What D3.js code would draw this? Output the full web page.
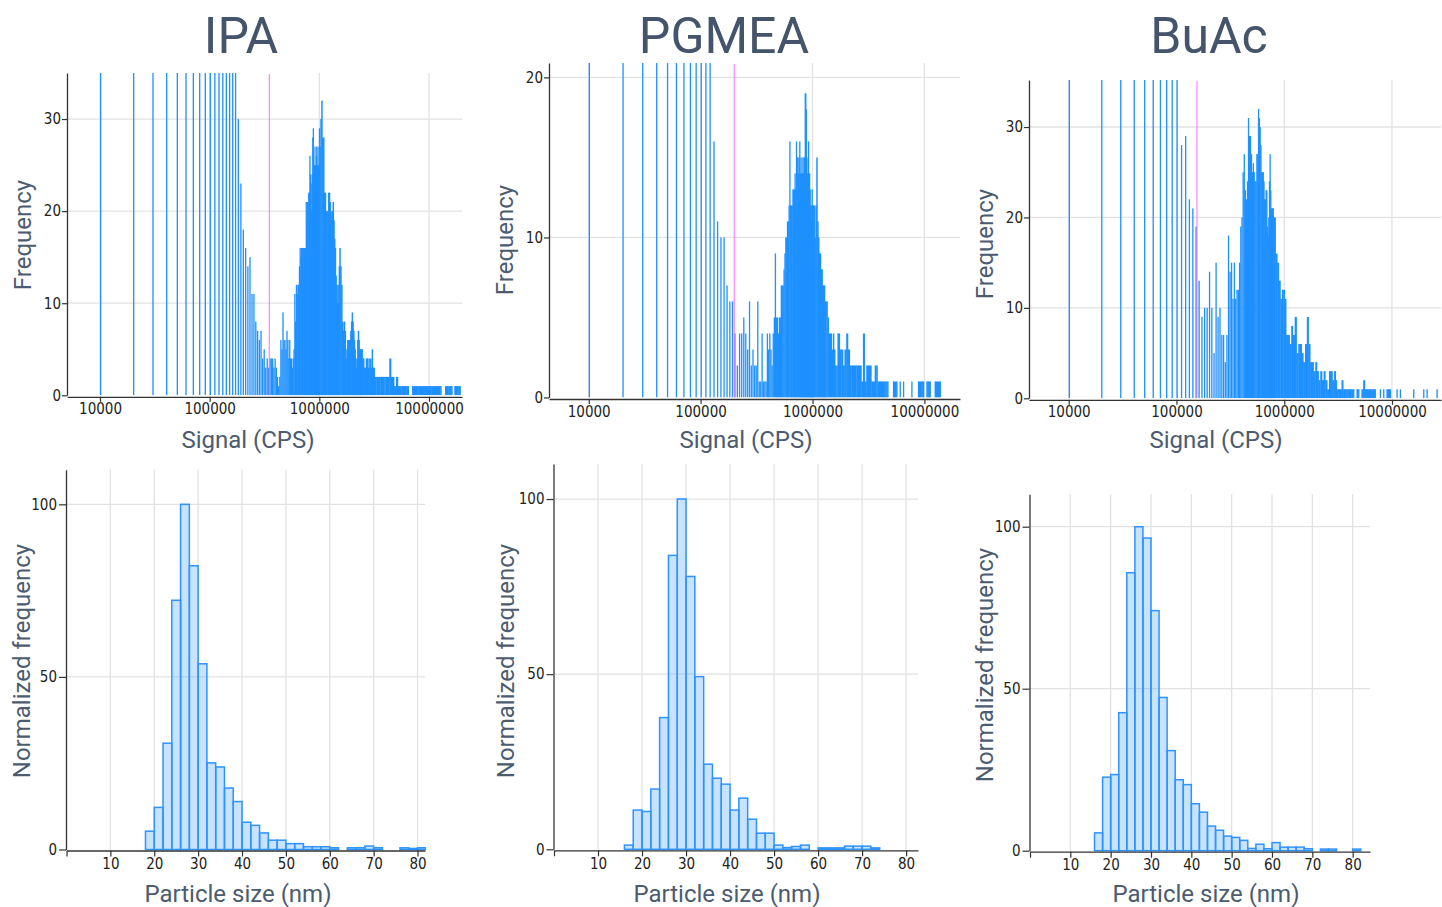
<!DOCTYPE html>
<html>
<head>
<meta charset="utf-8">
<script src="https://cdn.jsdelivr.net/npm/d3@7"></script>
<style>
  body { margin: 0; background: #fff; }
  svg { display: block; font-family: Roboto, "Noto Sans", sans-serif; }
  .tick text { font-family: "Liberation Sans Narrow", "DejaVu Sans Condensed", sans-serif; font-size: 15px; fill: #222; }
</style>
</head>
<body>
<script>
// ---- data -------------------------------------------------------------
// top row: signal histograms. bin start in kCPS (bins are 10 kCPS wide), count per bin.
// 99 = bar runs off the top of the plot
const ipaSignal = [10,20,30,40,50,60,70,80,90,100,110,120,130,140,150,160,170,
  180,190,200,210,220,230,240,250,260,270,280,290,300,310,320,330,340,350,360,370,380,390,400,
  410,420,430,440,450,460,470,480,490,500,510,520,530,540,550,560,570,580,590,600,
  610,620,630,640,650,660,670,680,690,700,710,720,730,740,750,760,770,780,790,800,
  810,820,830,840,850,860,870,880,890,900,910,920,930,940,950,960,970,980,990,1000,
  1020,1040,1060,1080,1100,1120,1140,1160,1180,1200,1220,1240,1260,1280,1300,1320,1340,1360,1380,1400,
  1420,1440,1460,1480,1500,1520,1550,1580,1610,1640,1670,1700,1730,1760,1790,1820,1850,1880,1910,1940,
  1970,2000,2030,2060,2090,2120,2150,2180,2210,2240,2270,2300,2330,2360,2390,2420,2460,2500,2550,2600,
  2650,2700,2750,2800,2850,2900,2950,3000,3050,3100,3200,3300,3400,3500,3600,3700,3800,3900,4000,4200,
  4340,4500,4660,4800,5000,5200,5400,5600,5800,6000,6200,6400,7000,7300,7600,8000,8400,8800,9200,9600,
  10000,10500,11000,11500,12000,12700,14000,14500,15000,15500,16000,17000,17500,18000,18500,19000];
const ipaCount = [99,99,99,99,99,99,99,99,99,99,99,99,99,99,99,99,99,
  30,23,18,16,14,15,11,11,8,7,6,7,4,5,3,4,3,4,4,4,3,4,3,
  2,1,2,6,5,9,6,6,5,7,6,4,6,4,4,3,4,5,11,8,
  12,11,12,12,14,16,15,16,16,15,16,16,15,16,21,19,21,20,22,22,
  26,24,23,20,24,28,29,27,25,24,25,27,26,27,25,24,25,27,29,27,
  30,32,28,28,22,22,20,20,20,22,22,21,20,19,20,21,19,17,16,13,
  12,10,12,10,14,16,14,12,8,7,8,7,4,5,6,6,6,6,7,8,
  9,8,7,6,5,4,3,4,6,7,6,5,5,4,5,5,4,4,3,3,
  4,4,3,4,3,4,3,5,3,3,2,2,2,2,2,2,2,2,2,2,
  4,2,2,1,2,1,1,1,1,1,1,1,1,1,1,1,1,1,1,1,
  1,1,1,1,1,1,1,1,1,1,1,1,1,1,1,1];

const pgmeaSignal = [10,20,30,40,50,60,70,80,90,100,110,120,
  130,140,150,160,170,180,190,200,210,220,230,240,250,260,270,280,290,300,
  310,320,330,340,350,360,370,380,390,400,410,420,430,440,450,460,470,480,490,500,
  510,520,530,540,550,560,570,580,590,600,610,620,630,640,650,660,670,680,690,700,
  710,720,730,740,750,760,770,780,790,800,810,820,830,840,850,860,870,880,890,900,
  910,920,930,940,950,960,970,980,990,1000,1020,1040,1060,1080,1100,1120,1140,1160,1180,1200,
  1220,1240,1260,1280,1300,1330,1360,1390,1420,1450,1480,1520,1550,1590,1630,1670,1710,1750,1810,1870,
  1930,2000,2070,2150,2220,2300,2380,2460,2550,2640,2730,2820,2920,3020,3130,3240,3350,3470,3590,3710,
  3800,3900,3980,4080,4170,4260,4360,4460,4560,4660,5230,5300,5610,6000,6430,7630,8750,8900,9060,9550,
  9700,10400,10600,10800,11130,12330,12550,12900,13200,13680];
const pgmeaCount = [99,99,99,99,99,99,99,99,99,99,99,99,
  16,11,10,10,7,6,6,4,2,4,4,5,4,3,6,2,3,2,
  2,6,1,1,4,1,1,1,4,3,4,3,2,4,5,9,5,5,4,5,
  5,7,7,7,8,9,10,10,11,11,12,16,12,12,12,13,13,13,14,13,
  16,15,15,14,15,16,14,15,14,14,15,14,15,15,19,19,18,15,14,13,
  16,14,14,13,12,12,11,13,12,12,12,10,12,15,11,10,9,9,8,8,
  7,7,7,6,6,6,5,4,4,4,3,4,3,2,2,4,4,3,3,2,
  3,4,3,2,2,2,2,2,2,2,1,4,1,2,2,2,1,1,2,2,
  1,1,1,1,1,1,1,1,1,1,1,1,1,1,1,1,1,1,1,1,
  1,1,1,1,1,1,1,1,1,1];

const buacSignal = [10,20,30,40,50,60,70,80,90,100,
  110,120,130,140,150,160,170,180,190,200,210,220,230,240,250,260,270,280,290,300,
  310,320,330,340,350,360,370,380,390,400,410,420,430,440,450,460,470,480,490,500,
  510,520,530,540,550,560,570,580,590,600,610,620,630,640,650,660,670,680,690,700,
  710,720,730,740,750,760,770,780,790,800,830,860,890,920,950,980,1010,1040,1080,1120,
  1160,1200,1250,1300,1350,1400,1450,1500,1560,1620,1680,1740,1800,1870,1940,2010,2080,2160,2240,2320,
  2400,2500,2600,2700,2800,2900,3000,3060,3170,3280,3400,3520,3650,3780,3920,4060,4200,4360,4680,4850,
  5200,5400,5600,5800,6000,6220,6450,6680,6900,7700,8270,8880,9200,9540,11000,11810,15710,19450,20890,25860];
const buacCount = [99,99,99,99,99,99,99,99,99,99,
  28,29,22,21,19,13,9,10,10,14,10,5,15,9,10,7,7,4,7,18,
  14,15,11,15,11,12,12,15,19,20,25,27,23,22,24,31,29,29,27,25,
  26,25,24,24,27,27,32,31,30,28,25,25,25,24,22,22,23,23,19,18,
  20,24,27,23,21,21,21,21,20,20,16,15,13,11,12,12,11,7,7,6,
  8,7,9,5,6,6,5,4,6,9,6,4,4,3,4,3,2,3,2,3,
  2,1,3,3,2,3,2,1,1,1,2,1,1,1,1,1,1,1,1,1,
  1,2,1,1,1,1,1,1,1,1,1,1,1,1,1,1,1,1,1,1];

// detection threshold (kCPS), drawn as the pink line
const ipaCut = 350, pgmeaCut = 200, buacCut = 155;

// bottom row: particle size histograms, 2 nm bins, normalized to 100
const sizeBinStart = [16,18,20,22,24,26,28,30,32,34,36,38,40,42,44,46,48,50,52,54,56,58,60,62,64,66,68,70,72,74,76,78,80];
const ipaSize   = [0,5.3,12.2,30.8,72.2,100,82.2,53.8,25.1,23.9,17.8,13.9,7.9,7.0,4.8,2.7,2.7,1.7,1.7,0.8,0.8,0.8,0.5,0,0.5,0.5,1.0,0.5,0,0,0.5,0.3,0.5];
const pgmeaSize = [1.2,11.2,10.8,17.2,37.6,83.9,100,77.9,49.3,24.3,20.3,18.6,11.2,14.6,8.6,4.6,4.6,1.2,0.5,0.8,1.2,0,0.4,0.4,0.4,0.9,0.9,0.9,0.4,0,0,0,0];
const buacSize  = [5.5,22.7,23.5,42.6,85.8,100,96.5,74.1,47.3,30.9,21.9,20.4,14.5,11.9,7.6,6.3,4.5,4.1,3.2,0.7,2.0,0.6,2.5,1.1,1.1,1.1,0.6,0,0.5,0.5,0,0,0.5];

const signalTicks = [1e4, 1e5, 1e6, 1e7];
const sizeTicks = [0,10,20,30,40,50,60,70,80];

// ---- layout -----------------------------------------------------------
const W = 1442, H = 907;
const BLUE = '#1e90ff';
const GRID = '#e2e2e2';
const LABEL = '#4b5b70';
const TITLE = '#44546a';
const BIN_K = 10; // bin width in kCPS

const topPanels = [
  {id:'ipa', title:'IPA', signal:ipaSignal, count:ipaCount, cut:ipaCut,
   x0:67, x1:462, top:73, zero:395.3, dom:[5000,2e7], yMax:35, yTicks:[0,10,20,30],
   titleX:241, yLabX:30.5, yLabY:235, xLabX:248},
  {id:'pgmea', title:'PGMEA', signal:pgmeaSignal, count:pgmeaCount, cut:pgmeaCut,
   x0:549, x1:960, top:63, zero:397.5, dom:[4418,2.08e7], yMax:20.9, yTicks:[0,10,20],
   titleX:724, yLabX:512.5, yLabY:240, xLabX:746},
  {id:'buac', title:'BuAc', signal:buacSignal, count:buacCount, cut:buacCut,
   x0:1029, x1:1441, top:80, zero:398.3, dom:[4281,2.85e7], yMax:35.2, yTicks:[0,10,20,30],
   titleX:1209, yLabX:992.5, yLabY:244, xLabX:1216}
];

const bottomPanels = [
  {id:'ipa', vals:ipaSize, x0:66.5, x1:425, xMax:81.7, top:469.8, zero:849.5,
   yLabX:30, yLabY:661, xLabX:238},
  {id:'pgmea', vals:pgmeaSize, x0:554, x1:918, xMax:82.7, top:464, zero:849.3,
   yLabX:514, yLabY:661, xLabX:727},
  {id:'buac', vals:buacSize, x0:1030, x1:1370, xMax:84.3, top:494.3, zero:850.7,
   yLabX:993, yLabY:665, xLabX:1206}
];

const svg = d3.select('body').append('svg').attr('width', W).attr('height', H);
const defs = svg.append('defs');

function styleAxis(sel) {
  sel.attr('font-size', null).attr('font-family', null);
  sel.select('.domain').attr('stroke', '#333').attr('stroke-width', 1.3);
  sel.selectAll('.tick line').attr('stroke', '#333').attr('stroke-width', 1.2);
}

function rotLabel(text, x, y) {
  svg.append('text')
    .attr('transform', `translate(${x},${y}) rotate(-90)`)
    .attr('text-anchor', 'middle')
    .attr('font-size', 24).attr('fill', LABEL)
    .text(text);
}

// top row
topPanels.forEach(p => {
  const x = d3.scaleLog().domain(p.dom).range([p.x0, p.x1]);
  const y = d3.scaleLinear().domain([0, p.yMax]).range([p.zero, p.top]);
  const g = svg.append('g');

  // grid
  g.append('g').selectAll('line').data(signalTicks).join('line')
    .attr('x1', d => x(d)).attr('x2', d => x(d))
    .attr('y1', p.top).attr('y2', p.zero)
    .attr('stroke', GRID).attr('stroke-width', 1.3);
  g.append('g').selectAll('line').data(p.yTicks.filter(d => d > 0)).join('line')
    .attr('x1', p.x0).attr('x2', p.x1)
    .attr('y1', d => y(d)).attr('y2', d => y(d))
    .attr('stroke', GRID).attr('stroke-width', 1.3);

  defs.append('clipPath').attr('id', 'clip-' + p.id)
    .append('rect').attr('x', p.x0).attr('y', p.top)
    .attr('width', p.x1 - p.x0).attr('height', p.zero - p.top);

  const bins = p.signal.map((s, i) => ({s, c: p.count[i], next: p.signal[i + 1]}));

  // each bin is a thin bar. where I read only every few bins (step > 1 bin),
  // stretch the bar to the next one so the dense part stays solid
  g.append('g').attr('clip-path', `url(#clip-${p.id})`)
    .selectAll('rect').data(bins).join('rect')
    .attr('x', d => x(d.s * 1000))
    .attr('width', d => {
      if (!d.next || d.next - d.s <= BIN_K) return 1.3;
      const gap = x(d.next * 1000) - x(d.s * 1000);
      return gap < 2.8 ? Math.max(1.5, gap + 0.4) : 1.3;
    })
    .attr('y', d => y(d.c))
    .attr('height', d => p.zero - y(d.c))
    .attr('fill', BLUE);

  // threshold line
  g.append('line')
    .attr('x1', x(p.cut * 1000)).attr('x2', x(p.cut * 1000))
    .attr('y1', p.top + 1).attr('y2', p.zero)
    .attr('stroke', '#ff66ff').attr('stroke-opacity', 0.75).attr('stroke-width', 1.3);

  // axes
  g.append('g').attr('transform', `translate(0,${p.zero + 1.5})`)
    .call(d3.axisBottom(x).tickValues(signalTicks).tickFormat(d3.format('d'))
      .tickSize(5).tickSizeOuter(0).tickPadding(2))
    .call(styleAxis);
  g.append('g').attr('transform', `translate(${p.x0},0)`)
    .call(d3.axisLeft(y).tickValues(p.yTicks).tickSize(5).tickSizeOuter(0).tickPadding(1))
    .call(styleAxis);

  svg.append('text').attr('x', p.titleX).attr('y', 53)
    .attr('text-anchor', 'middle').attr('font-size', 50).attr('fill', TITLE)
    .text(p.title);
  svg.append('text').attr('x', p.xLabX).attr('y', 448)
    .attr('text-anchor', 'middle').attr('font-size', 24).attr('fill', LABEL)
    .text('Signal (CPS)');
  rotLabel('Frequency', p.yLabX, p.yLabY);
});

// bottom row
bottomPanels.forEach(p => {
  const x = d3.scaleLinear().domain([0, p.xMax]).range([p.x0, p.x1]);
  const y = d3.scaleLinear().domain([0, 110]).range([p.zero, p.top]);
  const g = svg.append('g');

  g.append('g').selectAll('line').data(sizeTicks.filter(d => d > 0)).join('line')
    .attr('x1', d => x(d)).attr('x2', d => x(d))
    .attr('y1', p.top).attr('y2', p.zero)
    .attr('stroke', GRID).attr('stroke-width', 1.3);
  g.append('g').selectAll('line').data([50, 100]).join('line')
    .attr('x1', p.x0).attr('x2', p.x1)
    .attr('y1', d => y(d)).attr('y2', d => y(d))
    .attr('stroke', GRID).attr('stroke-width', 1.3);

  defs.append('clipPath').attr('id', 'clipb-' + p.id)
    .append('rect').attr('x', p.x0).attr('y', p.top - 2)
    .attr('width', p.x1 - p.x0 + 1).attr('height', p.zero - p.top + 4);

  const bars = sizeBinStart.map((b, i) => ({b, v: p.vals[i]})).filter(d => d.v > 0);
  g.append('g').attr('clip-path', `url(#clipb-${p.id})`)
    .selectAll('rect').data(bars).join('rect')
    .attr('x', d => x(d.b))
    .attr('width', d => x(d.b + 2) - x(d.b))
    .attr('y', d => y(d.v))
    .attr('height', d => p.zero - y(d.v))
    .attr('fill', BLUE).attr('fill-opacity', 0.25)
    .attr('stroke', '#2f93ff').attr('stroke-width', 1.5);

  g.append('g').attr('transform', `translate(0,${p.zero + 1})`)
    .call(d3.axisBottom(x).tickValues(sizeTicks).tickFormat(d => d === 0 ? '' : d)
      .tickSize(6).tickSizeOuter(0).tickPadding(2))
    .call(styleAxis);
  g.append('g').attr('transform', `translate(${p.x0 - 0.5},0)`)
    .call(d3.axisLeft(y).tickValues([0, 50, 100]).tickSize(7).tickSizeOuter(0).tickPadding(2))
    .call(styleAxis);

  svg.append('text').attr('x', p.xLabX).attr('y', 902)
    .attr('text-anchor', 'middle').attr('font-size', 24).attr('fill', LABEL)
    .text('Particle size (nm)');
  rotLabel('Normalized frequency', p.yLabX, p.yLabY);
});
</script>
</body>
</html>
